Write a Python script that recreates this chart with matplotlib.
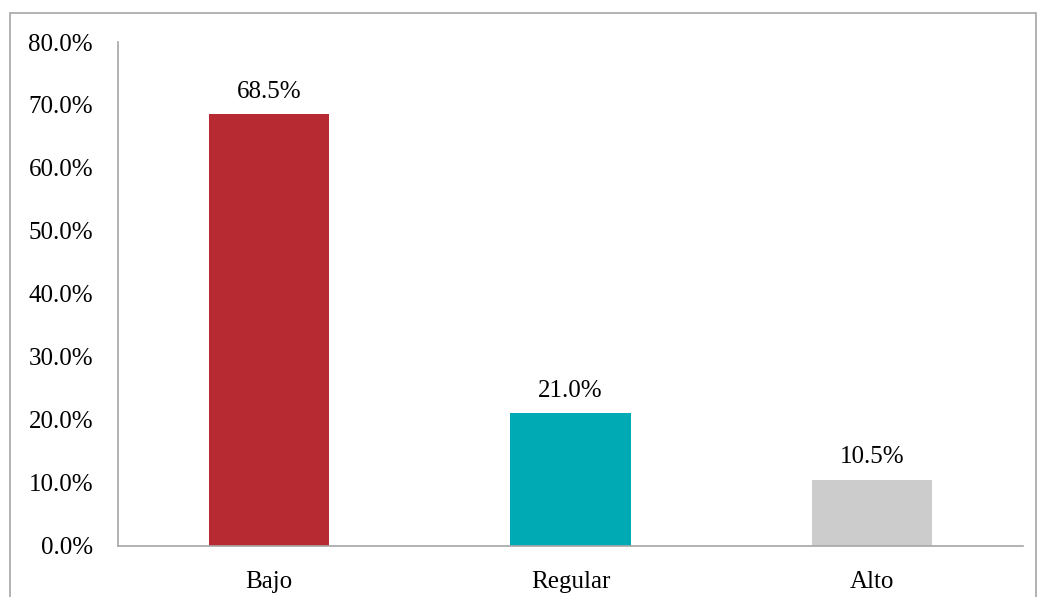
import matplotlib.pyplot as plt
from matplotlib.patches import Rectangle

categories = ["Bajo", "Regular", "Alto"]
values = [68.5, 21.0, 10.5]
colors = ["#B72A31", "#00AAB5", "#CCCCCC"]
yticks = [0, 10, 20, 30, 40, 50, 60, 70, 80]

plt.rcParams['font.family'] = ['Liberation Serif', 'DejaVu Serif']

fig = plt.figure(figsize=(10.38, 5.97), dpi=100)
# outer frame of the chart area
fig.patches.append(Rectangle((10 / 1038, -0.05), 1026 / 1038, 1.05 - 13 / 597,
                             transform=fig.transFigure, fill=False,
                             edgecolor="#A6A6A6", linewidth=1.2))

ax = fig.add_axes([0.1137, 0.0859, 0.8718, 0.8437])
x = range(len(categories))
bars = ax.bar(x, values, width=0.4, color=colors)

for b, v in zip(bars, values):
    ax.annotate(f"{v:.1f}%", (b.get_x() + b.get_width() / 2, v),
                xytext=(0, 8), textcoords="offset points",
                ha="center", va="bottom", fontsize=18)

ax.set_xlim(-0.5, 2.5)
ax.set_ylim(0, 80)
ax.set_yticks(yticks)
ax.set_yticklabels([f"{t:.1f}%" for t in yticks], fontsize=18)
ax.set_xticks(list(x))
ax.set_xticklabels(categories, fontsize=18)
ax.tick_params(length=0, pad=18)
ax.tick_params(axis="x", pad=18)

for s in ["top", "right"]:
    ax.spines[s].set_visible(False)
for s in ["left", "bottom"]:
    ax.spines[s].set_color("#A6A6A6")
    ax.spines[s].set_linewidth(1.2)

fig.savefig("out.png", dpi=100)
